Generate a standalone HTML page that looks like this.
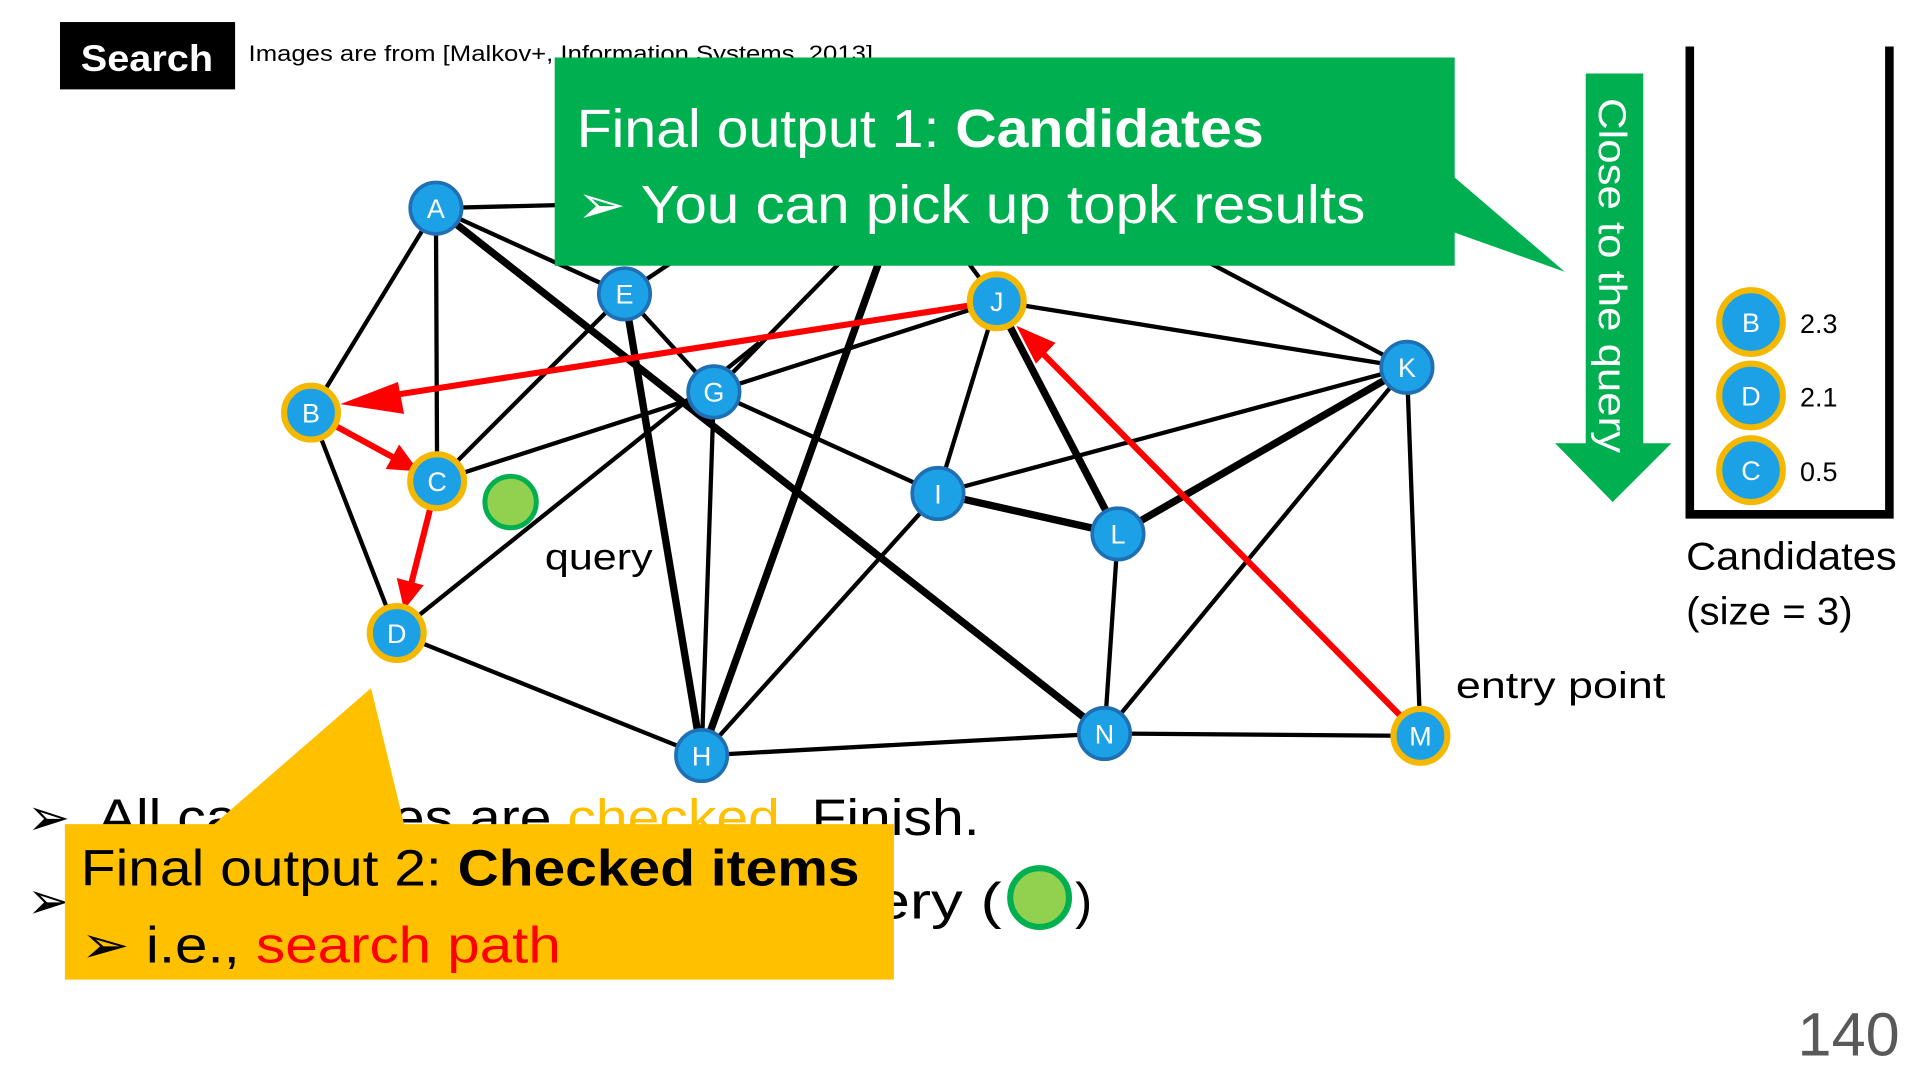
<!DOCTYPE html>
<html><head><meta charset="utf-8"><style>html,body{margin:0;padding:0;background:#fff;overflow:hidden}svg{display:block}text{font-family:"Liberation Sans",sans-serif}</style></head><body>
<svg width="1920" height="1080" viewBox="0 0 1568 882" preserveAspectRatio="none" xmlns="http://www.w3.org/2000/svg">
<rect width="1568" height="882" fill="#fff"/>
<rect x="49" y="18" width="143" height="55" fill="#000"/>
<text x="120" y="58" fill="#fff" font-size="30" font-weight="bold" text-anchor="middle" textLength="108" lengthAdjust="spacingAndGlyphs">Search</text>
<text x="203" y="50" font-size="18" textLength="510" lengthAdjust="spacingAndGlyphs">Images are from [Malkov+, Information Systems, 2013]</text>
<g stroke="#000" stroke-width="3.5" fill="none">
<line x1="356" y1="170" x2="254" y2="337"/>
<line x1="356" y1="170" x2="357" y2="393"/>
<line x1="356" y1="170" x2="510" y2="240"/>
<line x1="356" y1="170" x2="750" y2="160"/>
<line x1="510" y1="240" x2="357" y2="393"/>
<line x1="510" y1="240" x2="583" y2="320"/>
<line x1="510" y1="240" x2="660" y2="140"/>
<line x1="583" y1="320" x2="357" y2="393"/>
<line x1="583" y1="320" x2="814" y2="246"/>
<line x1="583" y1="320" x2="766" y2="403"/>
<line x1="583" y1="320" x2="573" y2="617"/>
<line x1="583" y1="320" x2="700" y2="200"/>
<line x1="324" y1="517" x2="620" y2="280"/>
<line x1="254" y1="337" x2="324" y2="517"/>
<line x1="324" y1="517" x2="573" y2="617"/>
<line x1="573" y1="617" x2="766" y2="403"/>
<line x1="573" y1="617" x2="902" y2="599"/>
<line x1="766" y1="403" x2="1149" y2="300"/>
<line x1="766" y1="403" x2="814" y2="246"/>
<line x1="814" y1="246" x2="1149" y2="300"/>
<line x1="780" y1="200" x2="814" y2="246"/>
<line x1="1149" y1="300" x2="902" y2="599"/>
<line x1="1149" y1="300" x2="1160" y2="601"/>
<line x1="1149" y1="300" x2="960" y2="200"/>
<line x1="913" y1="436" x2="902" y2="599"/>
<line x1="902" y1="599" x2="1160" y2="601"/>
</g>
<g stroke="#000" stroke-width="6" fill="none">
<line x1="356" y1="170" x2="902" y2="599"/>
<line x1="510" y1="240" x2="573" y2="617"/>
<line x1="573" y1="617" x2="730" y2="180"/>
<line x1="766" y1="403" x2="913" y2="436"/>
<line x1="814" y1="246" x2="913" y2="436"/>
<line x1="913" y1="436" x2="1149" y2="300"/>
</g>
<g stroke="#f00" stroke-width="5" fill="#f00">
<line x1="1160" y1="601" x2="845" y2="282"/><polygon points="830,266 862,280 846,297" stroke="none"/>
<line x1="814" y1="246" x2="300" y2="326"/><polygon points="278,330 325,312 330,338" stroke="none"/>
<line x1="254" y1="337" x2="322" y2="374"/><polygon points="342,385 315,383 326,363" stroke="none"/>
<line x1="357" y1="393" x2="336" y2="476"/><polygon points="330,498 346,478 324,472" stroke="none"/>
</g>
<g font-size="22" fill="#fff" text-anchor="middle">
<g stroke="#1f6fb5" stroke-width="3" fill="#1da1e6">
<circle cx="356" cy="170" r="21"/><circle cx="510" cy="240" r="21"/><circle cx="583" cy="320" r="21"/><circle cx="1149" cy="300" r="21"/><circle cx="766" cy="403" r="21"/><circle cx="913" cy="436" r="21"/><circle cx="573" cy="617" r="21"/><circle cx="902" cy="599" r="21"/>
</g>
<g stroke="#f5b800" stroke-width="5" fill="#1da1e6">
<circle cx="814" cy="246" r="22"/><circle cx="254" cy="337" r="22"/><circle cx="357" cy="393" r="22"/><circle cx="324" cy="517" r="22"/><circle cx="1160" cy="601" r="22"/>
<circle cx="1430" cy="263" r="26"/><circle cx="1430" cy="323" r="26"/><circle cx="1430" cy="384" r="26"/>
</g>
<text x="356" y="178">A</text><text x="510" y="248">E</text><text x="583" y="328">G</text><text x="1149" y="308">K</text><text x="766" y="411">I</text><text x="913" y="444">L</text><text x="573" y="625">H</text><text x="902" y="607">N</text>
<text x="814" y="254">J</text><text x="254" y="345">B</text><text x="357" y="401">C</text><text x="324" y="525">D</text><text x="1160" y="609">M</text>
<text x="1430" y="271">B</text><text x="1430" y="331">D</text><text x="1430" y="392">C</text>
</g>
<g font-size="22"><text x="1470" y="272">2.3</text><text x="1470" y="332">2.1</text><text x="1470" y="393">0.5</text></g>
<circle cx="417" cy="410" r="21" fill="#92d050" stroke="#00b050" stroke-width="4"/>
<text x="445" y="465" font-size="30" textLength="88" lengthAdjust="spacingAndGlyphs">query</text>
<text x="1189" y="570" font-size="30" textLength="171" lengthAdjust="spacingAndGlyphs">entry point</text>
<path d="M1380 38 V420 H1543 V38" stroke="#000" stroke-width="7" fill="none"/>
<text x="1377" y="465" font-size="32" textLength="172" lengthAdjust="spacingAndGlyphs">Candidates</text>
<text x="1377" y="510" font-size="32" textLength="136" lengthAdjust="spacingAndGlyphs">(size = 3)</text>
<polygon points="1295,60 1342,60 1342,362 1365,362 1317,410 1270,362 1295,362" fill="#00b050"/>
<text transform="translate(1306,80) rotate(90)" font-size="32" fill="#fff" textLength="290" lengthAdjust="spacingAndGlyphs">Close to the query</text>
<text x="1468" y="862" font-size="50" fill="#595959">140</text>
<text x="22" y="682" font-size="42">➢</text>
<text x="80" y="682" font-size="42" textLength="720" lengthAdjust="spacingAndGlyphs">All candidates are <tspan fill="#ffc000">checked</tspan>. Finish.</text>
<text x="22" y="750" font-size="42">➢</text>
<text x="80" y="750" font-size="42" textLength="738" lengthAdjust="spacingAndGlyphs">Return the closest to the query (</text>
<text x="878" y="750" font-size="42">)</text>
<circle cx="849" cy="733" r="24" fill="#92d050" stroke="#00b050" stroke-width="5"/>
<polygon points="453,47 1188,47 1188,145 1278,222 1188,190 1188,217 453,217" fill="#00b050"/>
<text x="471" y="120" font-size="44" fill="#fff" textLength="561" lengthAdjust="spacingAndGlyphs">Final output 1: <tspan font-weight="bold">Candidates</tspan></text>
<text x="471" y="182" font-size="44" fill="#fff" textLength="644" lengthAdjust="spacingAndGlyphs">➢  You can pick up topk results</text>
<polygon points="53,673 175,673 303,562 330,673 730,673 730,800 53,800" fill="#ffc000"/>
<text x="66" y="723" font-size="42" textLength="636" lengthAdjust="spacingAndGlyphs">Final output 2: <tspan font-weight="bold">Checked items</tspan></text>
<text x="66" y="786" font-size="42" textLength="392" lengthAdjust="spacingAndGlyphs">➢  i.e., <tspan fill="#f00">search path</tspan></text>
</svg>
</body></html>
